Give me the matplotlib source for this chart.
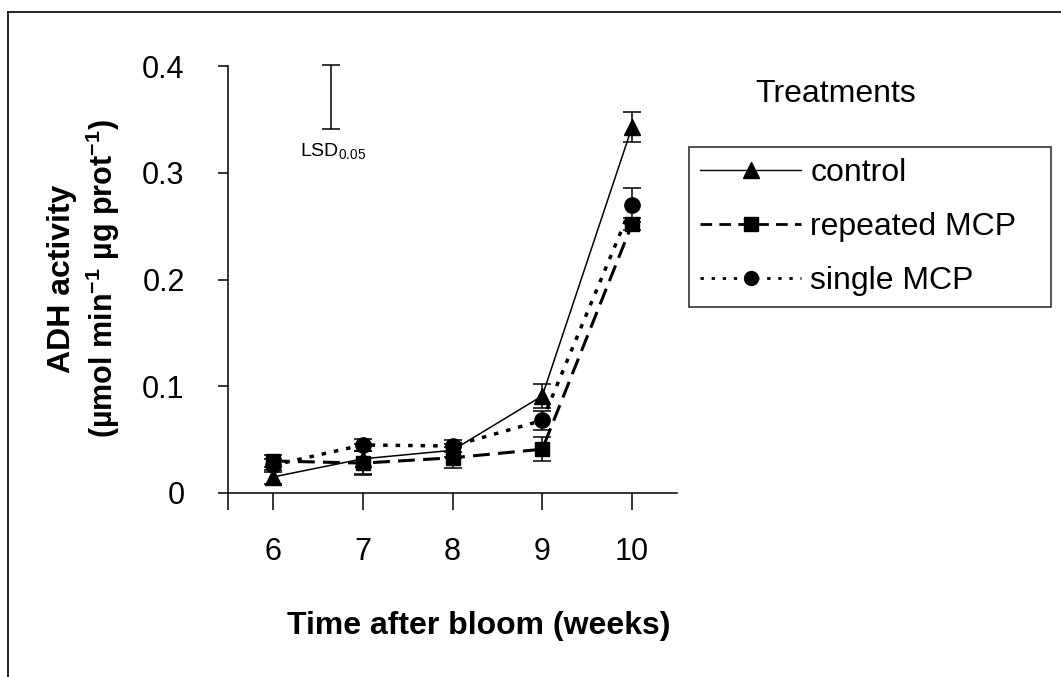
import matplotlib
matplotlib.use('Agg')
import matplotlib.pyplot as plt
from matplotlib.lines import Line2D

plt.rcParams['font.family'] = ['Liberation Sans', 'DejaVu Sans']
plt.rcParams['mathtext.fontset'] = 'custom'
plt.rcParams['mathtext.rm'] = 'Liberation Sans'
plt.rcParams['mathtext.bf'] = 'Liberation Sans:bold'
plt.rcParams['mathtext.default'] = 'regular'

# Dati
weeks = [6, 7, 8, 9, 10]
control = [0.015, 0.032, 0.040, 0.091, 0.343]
control_err = [0.007, 0.014, 0.006, 0.011, 0.014]
repeated = [0.030, 0.028, 0.033, 0.041, 0.252]
repeated_err = [0.006, 0.011, 0.010, 0.011, 0.006]
single = [0.026, 0.045, 0.044, 0.068, 0.270]
single_err = [0.006, 0.006, 0.006, 0.009, 0.016]

lsd_x = 6.65
lsd_mid = 0.371
lsd_half = 0.030

xtick_pos = [5.5, 6, 7, 8, 9, 10]
xtick_lab = ['', '6', '7', '8', '9', '10']
ytick_pos = [0, 0.1, 0.2, 0.3, 0.4]
ytick_lab = ['0', '0.1', '0.2', '0.3', '0.4']

W, H = 1061, 677
fig = plt.figure(figsize=(W / 100, H / 100), dpi=100)
ax = fig.add_axes([228 / W, 1 - 493 / H, (677 - 228) / W, (493 - 66) / H])

ebkw = dict(color='black', ecolor='black', elinewidth=1.1, capsize=6.5, capthick=1.1)

ax.errorbar(weeks, repeated, yerr=repeated_err, marker='s', ms=10, lw=2.2,
            linestyle=(0, (5.5, 2.7)), **ebkw)
ax.errorbar(weeks, single, yerr=single_err, marker='o', ms=11, lw=2.5,
            linestyle=(0, (1.3, 2.3)), **ebkw)
ax.errorbar(weeks, control, yerr=control_err, marker='^', ms=12, lw=1.1,
            linestyle='-', **ebkw)

# barra LSD
ax.errorbar([lsd_x], [lsd_mid], yerr=[lsd_half], fmt='none', ecolor='black',
            elinewidth=1.1, capsize=6.5, capthick=1.1, clip_on=False)
ax.text(lsd_x + 0.02, lsd_mid - lsd_half - 0.011, 'LSD$_{0.05}$', ha='center', va='top', fontsize=14)

ax.set_xlim(5.5, 10.5)
ax.set_ylim(0, 0.4)
ax.set_xticks(xtick_pos)
ax.set_xticklabels(xtick_lab, fontsize=22)
ax.set_yticks(ytick_pos)
ax.set_yticklabels(ytick_lab, fontsize=22)
ax.tick_params(axis='x', direction='out', length=12.5, width=1.1, pad=19)
ax.tick_params(axis='y', direction='out', length=7.2, width=1.1, pad=24)
for s in ['top', 'right']:
    ax.spines[s].set_visible(False)
for s in ['left', 'bottom']:
    ax.spines[s].set_linewidth(1.1)

# etichette assi
fig.text(62 / W, 1 - 279 / H, 'ADH activity', rotation=90, ha='center', va='center',
         fontsize=23, fontweight='bold')
fig.text(103 / W, 1 - 279 / H, r'(µmol min$^{\mathbf{-1}}$ µg prot$^{\mathbf{-1}}$)',
         rotation=90, ha='center', va='center', fontsize=22, fontweight='bold')
fig.text(479 / W, 1 - 626 / H, 'Time after bloom (weeks)', ha='center', va='center',
         fontsize=23, fontweight='bold')

# legenda
handles = [
    Line2D([], [], color='black', lw=1.0, marker='^', ms=11),
    Line2D([], [], color='black', lw=2.0, linestyle=(0, (4.2, 2.6)), marker='s', ms=9.5),
    Line2D([], [], color='black', lw=2.0, linestyle=(0, (1.2, 2.8)), marker='o', ms=10),
]
labels = ['control', 'repeated MCP', 'single MCP']
leg_h = 0.01
leg = fig.legend(handles, labels, loc='upper left',
                 bbox_to_anchor=(689 / W, 1 - 147 / H - leg_h, (1051 - 689) / W, leg_h),
                 mode='expand', borderaxespad=0, fontsize=23, frameon=True, fancybox=False,
                 edgecolor='black', numpoints=1, handlelength=3.17, handletextpad=0.28,
                 borderpad=0.35, labelspacing=0.75)
leg.get_frame().set_linewidth(1.2)
fig.text(836 / W, 1 - 94 / H, 'Treatments', ha='center', va='center', fontsize=23)

# bordo della figura
fig.add_artist(Line2D([8 / W, 8 / W], [0, 1 - 12 / H], transform=fig.transFigure, color='black', lw=1.2))
fig.add_artist(Line2D([8 / W, 1], [1 - 12 / H, 1 - 12 / H], transform=fig.transFigure, color='black', lw=1.2))

fig.savefig('out.png', dpi=100)
